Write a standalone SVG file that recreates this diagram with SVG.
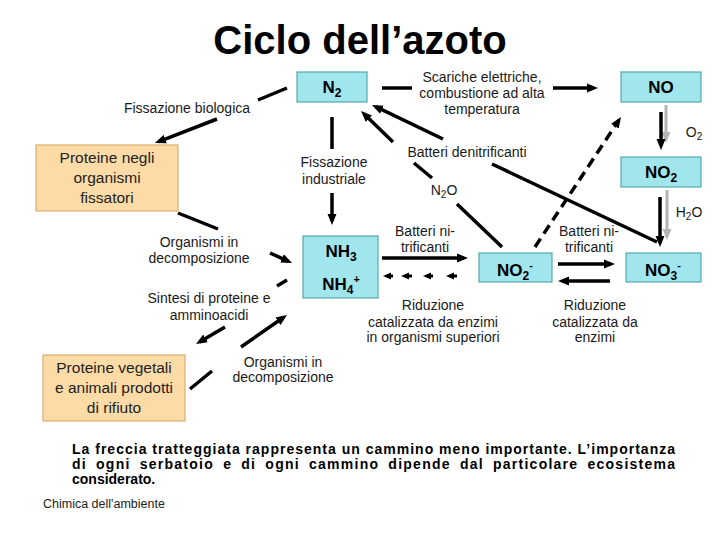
<svg xmlns="http://www.w3.org/2000/svg" width="720" height="540" viewBox="0 0 720 540">
<defs>
<style>
.cy{fill:#a1e6ec;stroke:#55a9b0;stroke-width:1.2}
.pe{fill:#fddba6;stroke:#d9ad72;stroke-width:1.2}
.nl{font-family:"Liberation Sans",Arial,sans-serif;font-weight:bold;font-size:17px;fill:#000;text-anchor:middle}
.pl{font-family:"Liberation Sans",Arial,sans-serif;font-size:15.5px;fill:#222;text-anchor:middle}
.lb{font-family:"Liberation Sans",Arial,sans-serif;font-size:14px;fill:#1a1a1a;text-anchor:middle}
.ln{fill:none;stroke:#000;stroke-width:3.5}
.gr{fill:none;stroke:#b4b4b4;stroke-width:3}
.ds{fill:none;stroke:#000;stroke-width:3.5;stroke-dasharray:10 6}
.sm{fill:none;stroke:#000;stroke-width:3}
</style>
<marker id="ah" markerUnits="userSpaceOnUse" viewBox="0 0 11 10" markerWidth="11" markerHeight="10" refX="7" refY="5" orient="auto"><path d="M0,0.5 L11,5 L0,9.5 z" fill="#000"/></marker>
<marker id="ahg" markerUnits="userSpaceOnUse" viewBox="0 0 11 10" markerWidth="11" markerHeight="10" refX="7" refY="5" orient="auto"><path d="M0,0.5 L11,5 L0,9.5 z" fill="#b4b4b4"/></marker>
<marker id="ahs" markerUnits="userSpaceOnUse" viewBox="0 0 8 8" markerWidth="8" markerHeight="8" refX="4" refY="4" orient="auto"><path d="M0,0.5 L8,4 L0,7.5 z" fill="#000"/></marker>
</defs>
<rect width="720" height="540" fill="#fff"/>
<text x="360" y="54" font-family="'Liberation Sans',Arial,sans-serif" font-weight="bold" font-size="40" text-anchor="middle">Ciclo dell’azoto</text>

<g id="connectors">
<path class="ln" d="M287,88 L258,100"/>
<path class="ln" d="M217,119 L158.7,141.6" marker-end="url(#ah)"/>
<path class="ln" d="M382,88 L412,88"/>
<path class="ln" d="M553,88 L594,88" marker-end="url(#ah)"/>
<path class="ds" d="M535,247 L618.8,120.3" marker-end="url(#ah)"/>
<path class="ln" d="M657,242 L492,164"/>
<path class="ln" d="M443,139 L375.6,106.7" marker-end="url(#ah)"/>
<path class="ln" d="M502,247 L457,204"/>
<path class="ln" d="M432,178 L414,163"/>
<path class="ln" d="M393,142 L363.9,113.8" marker-end="url(#ah)"/>
<path class="gr" d="M666,105 L666,139" marker-end="url(#ahg)"/>
<path class="ln" d="M661,112 L661,146" marker-end="url(#ah)"/>
<path class="gr" d="M667,190 L667,236" marker-end="url(#ahg)"/>
<path class="ln" d="M660,197 L660,243" marker-end="url(#ah)"/>
<path class="ln" d="M332,117 L332,149"/>
<path class="ln" d="M332,193 L332,221" marker-end="url(#ah)"/>
<path class="ln" d="M382,258 L464,258" marker-end="url(#ah)"/>
<path class="sm" d="M393,276 L387,276" marker-end="url(#ahs)"/>
<path class="sm" d="M412,276 L405,276" marker-end="url(#ahs)"/>
<path class="sm" d="M433,276 L427,276" marker-end="url(#ahs)"/>
<path class="sm" d="M457,276 L450,276" marker-end="url(#ahs)"/>
<path class="ln" d="M558,264 L611,264" marker-end="url(#ah)"/>
<path class="ln" d="M610,281 L562,281" marker-end="url(#ah)"/>
<path class="ln" d="M178,213 L218,229"/>
<path class="ln" d="M270,253 L288.4,261.3" marker-end="url(#ah)"/>
<path class="ln" d="M287,280 L277,286"/>
<path class="ln" d="M225,327 L199.5,342" marker-end="url(#ah)"/>
<path class="ln" d="M190,389 L212,371"/>
<path class="ln" d="M241,347 L283.7,317.3" marker-end="url(#ah)"/>
</g>

<g id="n2"><rect class="cy" x="297" y="72" width="70" height="30"/><text class="nl" x="332" y="93">N<tspan font-size="12" dy="4">2</tspan></text></g>
<g id="no"><rect class="cy" x="621" y="72" width="80" height="30"/><text class="nl" x="661" y="93">NO</text></g>
<g id="no2"><rect class="cy" x="621" y="157" width="80" height="30"/><text class="nl" x="661" y="178">NO<tspan font-size="12" dy="4">2</tspan></text></g>
<g id="no2m"><rect class="cy" x="479" y="253" width="73" height="29"/><text class="nl" x="515" y="276">NO<tspan font-size="12" dy="4">2</tspan><tspan font-size="11" dy="-11">-</tspan></text></g>
<g id="no3m"><rect class="cy" x="626" y="253" width="75" height="29"/><text class="nl" x="663" y="276">NO<tspan font-size="12" dy="4">3</tspan><tspan font-size="11" dy="-11">-</tspan></text></g>
<g id="nh3"><rect class="cy" x="303" y="236" width="75" height="62"/><text class="nl" x="341" y="257">NH<tspan font-size="12" dy="4">3</tspan></text><text class="nl" x="341" y="290">NH<tspan font-size="12" dy="4">4</tspan><tspan font-size="11" dy="-11">+</tspan></text></g>
<g id="prot-fiss"><rect class="pe" x="36" y="145" width="142" height="66"/><text class="pl" x="107" y="163">Proteine negli</text><text class="pl" x="107" y="183">organismi</text><text class="pl" x="107" y="203">fissatori</text></g>
<g id="prot-veg"><rect class="pe" x="43" y="355" width="142" height="66"/><text class="pl" x="114" y="373">Proteine vegetali</text><text class="pl" x="114" y="393">e animali prodotti</text><text class="pl" x="114" y="413">di rifiuto</text></g>

<g id="labels">
<text class="lb" x="187" y="113">Fissazione biologica</text>
<text class="lb" x="482" y="82">Scariche elettriche,</text>
<text class="lb" x="482" y="98">combustione ad alta</text>
<text class="lb" x="482" y="114">temperatura</text>
<text class="lb" x="694" y="137">O<tspan font-size="10" dy="3">2</tspan></text>
<text class="lb" x="467" y="157">Batteri denitrificanti</text>
<text class="lb" x="444" y="195">N<tspan font-size="10" dy="3">2</tspan><tspan dy="-3">O</tspan></text>
<text class="lb" x="689" y="217">H<tspan font-size="10" dy="3">2</tspan><tspan dy="-3">O</tspan></text>
<text class="lb" x="334" y="167">Fissazione</text>
<text class="lb" x="334" y="184">industriale</text>
<text class="lb" x="199" y="247">Organismi in</text>
<text class="lb" x="199" y="263">decomposizione</text>
<text class="lb" x="209" y="303">Sintesi di proteine e</text>
<text class="lb" x="209" y="320">amminoacidi</text>
<text class="lb" x="283" y="367">Organismi in</text>
<text class="lb" x="283" y="382">decomposizione</text>
<text class="lb" x="425" y="236">Batteri ni-</text>
<text class="lb" x="425" y="252">trificanti</text>
<text class="lb" x="589" y="236">Batteri ni-</text>
<text class="lb" x="589" y="252">trificanti</text>
<text class="lb" x="433" y="310">Riduzione</text>
<text class="lb" x="433" y="327">catalizzata da enzimi</text>
<text class="lb" x="433" y="342">in organismi superiori</text>
<text class="lb" x="595" y="310">Riduzione</text>
<text class="lb" x="595" y="327">catalizzata da</text>
<text class="lb" x="595" y="342">enzimi</text>
</g>

<g id="note" font-family="'Liberation Sans',Arial,sans-serif" font-weight="bold" font-size="14">
<text x="72" y="454" textLength="603" lengthAdjust="spacing">La freccia tratteggiata rappresenta un cammino meno importante. L’importanza</text>
<text x="72" y="469" textLength="603" lengthAdjust="spacing" word-spacing="4">di ogni serbatoio e di ogni cammino dipende dal particolare ecosistema</text>
<text x="72" y="484">considerato.</text>
</g>
<text x="43" y="508" font-family="'Liberation Sans',Arial,sans-serif" font-size="12.5" fill="#222">Chimica dell'ambiente</text>
</svg>
